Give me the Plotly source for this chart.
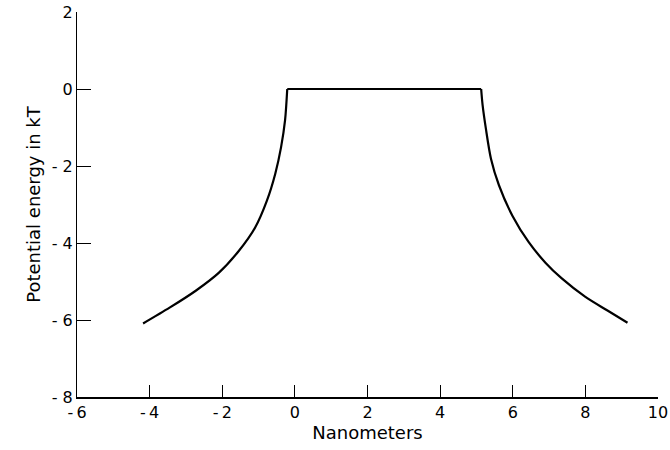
import plotly.graph_objects as go

# Potential energy profile (kT) versus position (nm)
left_x = [-4.18, -3.45, -2.73, -2.09, -1.54, -1.09, -0.77, -0.54, -0.38, -0.27, -0.21]
left_y = [-6.09, -5.68, -5.24, -4.77, -4.20, -3.59, -2.90, -2.20, -1.51, -0.81, 0.0]

plateau_x = [-0.21, 5.13]
plateau_y = [0.0, 0.0]

right_x = [5.13, 5.17, 5.26, 5.40, 5.62, 5.99, 6.44, 6.90, 7.35, 8.00, 8.62, 9.16]
right_y = [0.0, -0.42, -1.03, -1.81, -2.50, -3.29, -3.98, -4.51, -4.92, -5.40, -5.76, -6.07]

x_ticks = [-6, -4, -2, 0, 2, 4, 6, 8, 10]
x_tick_text = ["-\u20096", "-\u20094", "-\u20092", "0", "2", "4", "6", "8", "10"]
y_ticks = [2, 0, -2, -4, -6, -8]
y_tick_text = ["2", "0", "- 2", "- 4", "- 6", "- 8"]

font_family = "DejaVu Sans, Verdana, sans-serif"

fig = go.Figure()
line_style = dict(color="black", width=2.2)
fig.add_trace(go.Scatter(x=left_x, y=left_y, mode="lines",
                         line=dict(**line_style, shape="spline", smoothing=0.8)))
fig.add_trace(go.Scatter(x=plateau_x, y=plateau_y, mode="lines", line=line_style))
fig.add_trace(go.Scatter(x=right_x, y=right_y, mode="lines",
                         line=dict(**line_style, shape="spline", smoothing=0.8)))

fig.update_layout(
    width=670,
    height=450,
    margin=dict(l=77, r=12, t=12, b=53),
    paper_bgcolor="white",
    plot_bgcolor="white",
    showlegend=False,
    font=dict(family=font_family, size=16, color="black"),
)

fig.update_xaxes(
    range=[-6, 10],
    tickvals=x_ticks,
    ticktext=x_tick_text,
    ticks="inside",
    ticklen=12,
    tickwidth=1.3,
    tickcolor="black",
    showline=True,
    linecolor="black",
    linewidth=1.6,
    showgrid=False,
    zeroline=False,
    automargin=False,
    ticklabeloverflow="allow",
    title=dict(text="Nanometers", font=dict(size=18), standoff=4),
    tickfont=dict(size=16),
)
fig.update_yaxes(
    range=[-8, 2],
    tickvals=y_ticks,
    ticktext=y_tick_text,
    ticks="inside",
    ticklen=14,
    tickwidth=1.3,
    tickcolor="black",
    showline=True,
    linecolor="black",
    linewidth=1.2,
    showgrid=False,
    zeroline=False,
    automargin=False,
    ticklabeloverflow="allow",
    title=dict(text="Potential energy in kT", font=dict(size=18), standoff=6),
    tickfont=dict(size=16),
)

fig.write_html("out.html")
